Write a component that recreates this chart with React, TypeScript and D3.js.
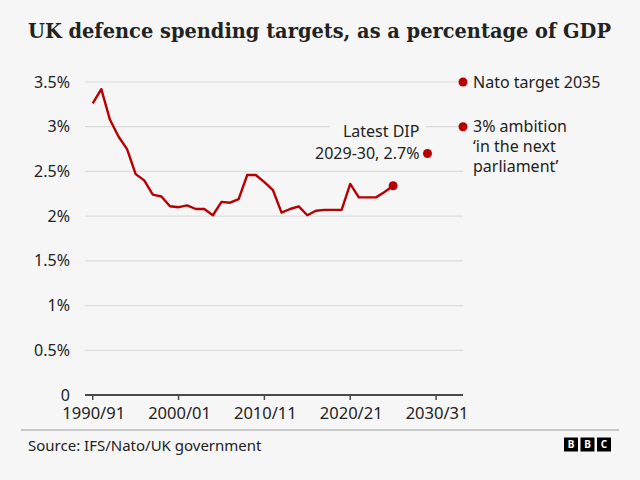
import React, { useEffect } from "react";
import * as d3 from "d3";

// UK defence spending as a share of GDP, by financial year (start year)
const years = [
  1990, 1991, 1992, 1993, 1994, 1995, 1996, 1997, 1998, 1999,
  2000, 2001, 2002, 2003, 2004, 2005, 2006, 2007, 2008, 2009,
  2010, 2011, 2012, 2013, 2014, 2015, 2016, 2017, 2018, 2019,
  2020, 2021, 2022, 2023, 2024, 2025,
];
const spending = [
  3.26, 3.42, 3.08, 2.89, 2.75, 2.47, 2.40, 2.24, 2.22, 2.11,
  2.10, 2.12, 2.08, 2.08, 2.01, 2.16, 2.15, 2.19, 2.46, 2.46,
  2.38, 2.29, 2.04, 2.08, 2.11, 2.01, 2.06, 2.07, 2.07, 2.07,
  2.36, 2.21, 2.21, 2.21, 2.27, 2.34,
];

const dipYear = 2029;
const dipValue = 2.7;
const natoTarget = 3.5;
const ambitionTarget = 3.0;

const xTicks = [1990, 2000, 2010, 2020, 2030];
const xTickLabels = ["1990/91", "2000/01", "2010/11", "2020/21", "2030/31"];
const yTicks = [0, 0.5, 1, 1.5, 2, 2.5, 3, 3.5];

const W = 640;
const H = 480;
const RED = "#b80000";
const TEXT = "#222222";
const FONT = "'Noto Sans', 'Open Sans', sans-serif";
const TITLE_FONT = "'DejaVu Serif', 'Liberation Serif', serif";

export default function App() {
  useEffect(() => {
    document.body.style.margin = "0";
  }, []);

  const x = d3.scaleLinear().domain([1989.1, 2033.14]).range([85, 463]);
  const y = d3.scaleLinear().domain([0, 3.5]).range([395, 82]);

  const points = years.map((yr, i) => [yr, spending[i]] as [number, number]);
  const line = d3
    .line<[number, number]>()
    .x((d) => x(d[0]))
    .y((d) => y(d[1]));

  const [x0, x1] = x.range();
  const last = points[points.length - 1];
  const yFmt = (v: number) => (v === 0 ? "0" : `${v}%`);

  // gap in the 3% gridline behind the DIP label
  const gapStart = 330;
  const gapEnd = 426;

  return (
    <svg width={W} height={H} style={{ display: "block", background: "#f6f6f6" }} fontFamily={FONT}>
      <rect width={W} height={H} fill="#f6f6f6" />
      <text
        x={28}
        y={38}
        fontSize={20}
        fontWeight={700}
        fill={TEXT}
        fontFamily={TITLE_FONT}
        textLength={583}
        lengthAdjust="spacingAndGlyphs"
      >
        UK defence spending targets, as a percentage of GDP
      </text>

      {/* gridlines and y labels */}
      {yTicks.map((t) => {
        const yy = y(t);
        return (
          <g key={t}>
            {t > 0 && t !== ambitionTarget && (
              <line x1={x0} x2={x1} y1={yy} y2={yy} stroke="#dcdcdc" strokeWidth={1.2} />
            )}
            {t === ambitionTarget && (
              <>
                <line x1={x0} x2={gapStart} y1={yy} y2={yy} stroke="#dcdcdc" strokeWidth={1.2} />
                <line x1={gapEnd} x2={x1} y1={yy} y2={yy} stroke="#dcdcdc" strokeWidth={1.2} />
              </>
            )}
            <text x={70} y={yy} dy="0.35em" textAnchor="end" fontSize={16} fill={TEXT}>
              {yFmt(t)}
            </text>
          </g>
        );
      })}

      {/* x axis */}
      <line x1={x0} x2={x1} y1={y(0)} y2={y(0)} stroke="#4a4a4a" strokeWidth={2} />
      {xTicks.map((t, i) => (
        <g key={t}>
          <line x1={x(t)} x2={x(t)} y1={y(0)} y2={y(0) + 5} stroke="#4a4a4a" strokeWidth={1.5} />
          <text x={x(t) + 1} y={419} textAnchor="middle" fontSize={16.5} fill={TEXT}>
            {xTickLabels[i]}
          </text>
        </g>
      ))}

      {/* spending line */}
      <path d={line(points) ?? ""} fill="none" stroke={RED} strokeWidth={2.4} strokeLinejoin="round" />
      <circle cx={x(last[0])} cy={y(last[1])} r={4.5} fill={RED} />

      {/* targets */}
      <circle cx={x(dipYear)} cy={y(dipValue)} r={4.5} fill={RED} />
      <text x={x(dipYear) - 8} y={y(dipValue) - 22} dy="0.35em" textAnchor="end" fontSize={16} fill={TEXT}>
        Latest DIP
      </text>
      <text x={x(dipYear) - 8} y={y(dipValue)} dy="0.35em" textAnchor="end" fontSize={16} fill={TEXT}>
        2029-30, 2.7%
      </text>

      <circle cx={x1} cy={y(natoTarget)} r={4.5} fill={RED} />
      <text x={x1 + 10} y={y(natoTarget)} dy="0.35em" fontSize={16} fill={TEXT}>
        Nato target 2035
      </text>

      <circle cx={x1} cy={y(ambitionTarget)} r={4.5} fill={RED} />
      <text x={x1 + 10} y={y(ambitionTarget)} dy="0.35em" fontSize={16} fill={TEXT}>
        3% ambition
      </text>
      <text x={x1 + 10} y={y(ambitionTarget) + 20} dy="0.35em" fontSize={16} fill={TEXT}>
        ‘in the next
      </text>
      <text x={x1 + 10} y={y(ambitionTarget) + 40} dy="0.35em" fontSize={16} fill={TEXT}>
        parliament’
      </text>

      {/* footer */}
      <line x1={21} x2={619} y1={430} y2={430} stroke="#9a9a9a" strokeWidth={1} />
      <text x={28} y={446} dy="0.35em" fontSize={15} fill={TEXT}>
        Source: IFS/Nato/UK government
      </text>
      {["B", "B", "C"].map((c, i) => (
        <g key={i} transform={`translate(${564 + i * 16.5},437.5)`}>
          <rect width={14} height={14} fill="#000" />
          <text x={7} y={7} dy="0.36em" textAnchor="middle" fontSize={10} fontWeight={700} fill="#fff">
            {c}
          </text>
        </g>
      ))}
    </svg>
  );
}
